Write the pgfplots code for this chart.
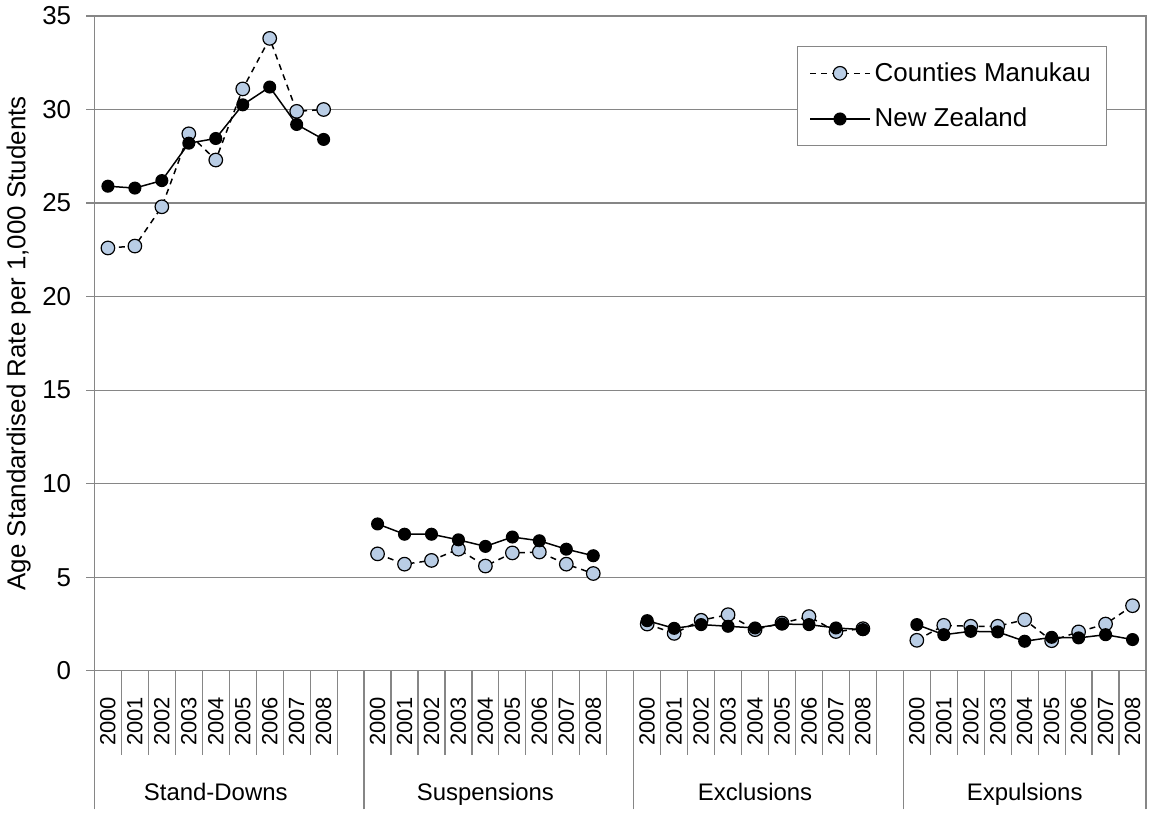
\documentclass[border=0pt]{standalone}
\usepackage{pgfplots}
\pgfplotsset{compat=1.18}
\usepackage{fontspec}
\setmainfont{Liberation Sans}
\definecolor{cmfill}{HTML}{B9CDE5}
\definecolor{axisgray}{HTML}{868686}

\begin{document}
\begin{tikzpicture}
\begin{axis}[
  scale only axis,
  width=527.5pt, height=328.5pt,
  xmin=0, xmax=39, ymin=0, ymax=35,
  ytick={0,5,...,35},
  ymajorgrids,
  grid style={axisgray, line width=0.6pt},
  axis line style={axisgray, line width=0.6pt},
  tick pos=left,
  tick align=outside,
  major tick length=4pt,
  tick style={axisgray, line width=0.6pt},
  /pgf/number format/assume math mode=true,
  yticklabel style={font=\fontsize{13}{16}\selectfont, inner sep=0pt, xshift=-7.5pt},
  xtick={0.5,1.5,2.5,3.5,4.5,5.5,6.5,7.5,8.5,
         10.5,11.5,12.5,13.5,14.5,15.5,16.5,17.5,18.5,
         20.5,21.5,22.5,23.5,24.5,25.5,26.5,27.5,28.5,
         30.5,31.5,32.5,33.5,34.5,35.5,36.5,37.5,38.5},
  xticklabels={2000,2001,2002,2003,2004,2005,2006,2007,2008,
               2000,2001,2002,2003,2004,2005,2006,2007,2008,
               2000,2001,2002,2003,2004,2005,2006,2007,2008,
               2000,2001,2002,2003,2004,2005,2006,2007,2008},
  major x tick style={draw=none},
  xticklabel style={rotate=90, anchor=east, inner sep=0pt, font=\fontsize{11}{13}\selectfont},
  xticklabel shift=9pt,
  minor xtick={0,1,...,39},
  minor tick length=42pt,
  extra x ticks={0,10,20,30,39},
  extra x tick labels={},
  extra x tick style={major tick length=69.5pt, major x tick style={draw=axisgray}},
  ylabel={Age Standardised Rate per 1,000 Students},
  ylabel style={at={(axis description cs:-0.072,0.5)}, anchor=center, font=\fontsize{13}{15}\selectfont},
  unbounded coords=jump,
  clip=false,
  legend style={at={(axis description cs:0.963,0.954)}, anchor=north east,
    draw=axisgray, fill=white, font=\fontsize{13}{15.6}\selectfont,
    row sep=8pt, inner xsep=6pt, inner ysep=6pt},
  legend cell align=left,
  legend image code/.code={\draw[mark repeat=2, mark phase=2, #1] plot coordinates {(0pt,0pt) (15pt,0pt) (30pt,0pt)};},
]
% Counties Manukau
\addplot[black, line width=0.75pt, dash pattern=on 3pt off 2.5pt,
  mark=*, mark size=3.4pt, mark options={solid, fill=cmfill, draw=black, line width=0.6pt}]
  coordinates {
  (0.5,22.6) (1.5,22.7) (2.5,24.8) (3.5,28.7) (4.5,27.3) (5.5,31.1) (6.5,33.8) (7.5,29.9) (8.5,30.0)
  (9.5,nan)
  (10.5,6.25) (11.5,5.7) (12.5,5.9) (13.5,6.5) (14.5,5.6) (15.5,6.3) (16.5,6.35) (17.5,5.7) (18.5,5.2)
  (19.5,nan)
  (20.5,2.5) (21.5,2.0) (22.5,2.7) (23.5,3.0) (24.5,2.2) (25.5,2.55) (26.5,2.9) (27.5,2.1) (28.5,2.25)
  (29.5,nan)
  (30.5,1.63) (31.5,2.43) (32.5,2.38) (33.5,2.38) (34.5,2.73) (35.5,1.61) (36.5,2.08) (37.5,2.5) (38.5,3.48)
  };
\addlegendentry{Counties Manukau}
% New Zealand
\addplot[black, line width=0.75pt, mark=*, mark size=2.9pt, mark options={fill=black}]
  coordinates {
  (0.5,25.9) (1.5,25.8) (2.5,26.2) (3.5,28.2) (4.5,28.45) (5.5,30.25) (6.5,31.2) (7.5,29.2) (8.5,28.4)
  (9.5,nan)
  (10.5,7.85) (11.5,7.3) (12.5,7.3) (13.5,7.0) (14.5,6.65) (15.5,7.15) (16.5,6.95) (17.5,6.5) (18.5,6.15)
  (19.5,nan)
  (20.5,2.68) (21.5,2.27) (22.5,2.47) (23.5,2.38) (24.5,2.29) (25.5,2.5) (26.5,2.47) (27.5,2.29) (28.5,2.2)
  (29.5,nan)
  (30.5,2.47) (31.5,1.93) (32.5,2.11) (33.5,2.08) (34.5,1.58) (35.5,1.79) (36.5,1.76) (37.5,1.93) (38.5,1.67)
  };
\addlegendentry{New Zealand}
% group labels
\node[font=\fontsize{12}{14}\selectfont, anchor=base] at (axis cs:4.5,0) [yshift=-65pt] {Stand-Downs};
\node[font=\fontsize{12}{14}\selectfont, anchor=base] at (axis cs:14.5,0) [yshift=-65pt] {Suspensions};
\node[font=\fontsize{12}{14}\selectfont, anchor=base] at (axis cs:24.5,0) [yshift=-65pt] {Exclusions};
\node[font=\fontsize{12}{14}\selectfont, anchor=base] at (axis cs:34.5,0) [yshift=-65pt] {Expulsions};
\end{axis}
\path ([shift={(-45.5pt,-69.5pt)}]current axis.south west) rectangle ([shift={(1.5pt,8pt)}]current axis.north east);
\end{tikzpicture}
\end{document}
